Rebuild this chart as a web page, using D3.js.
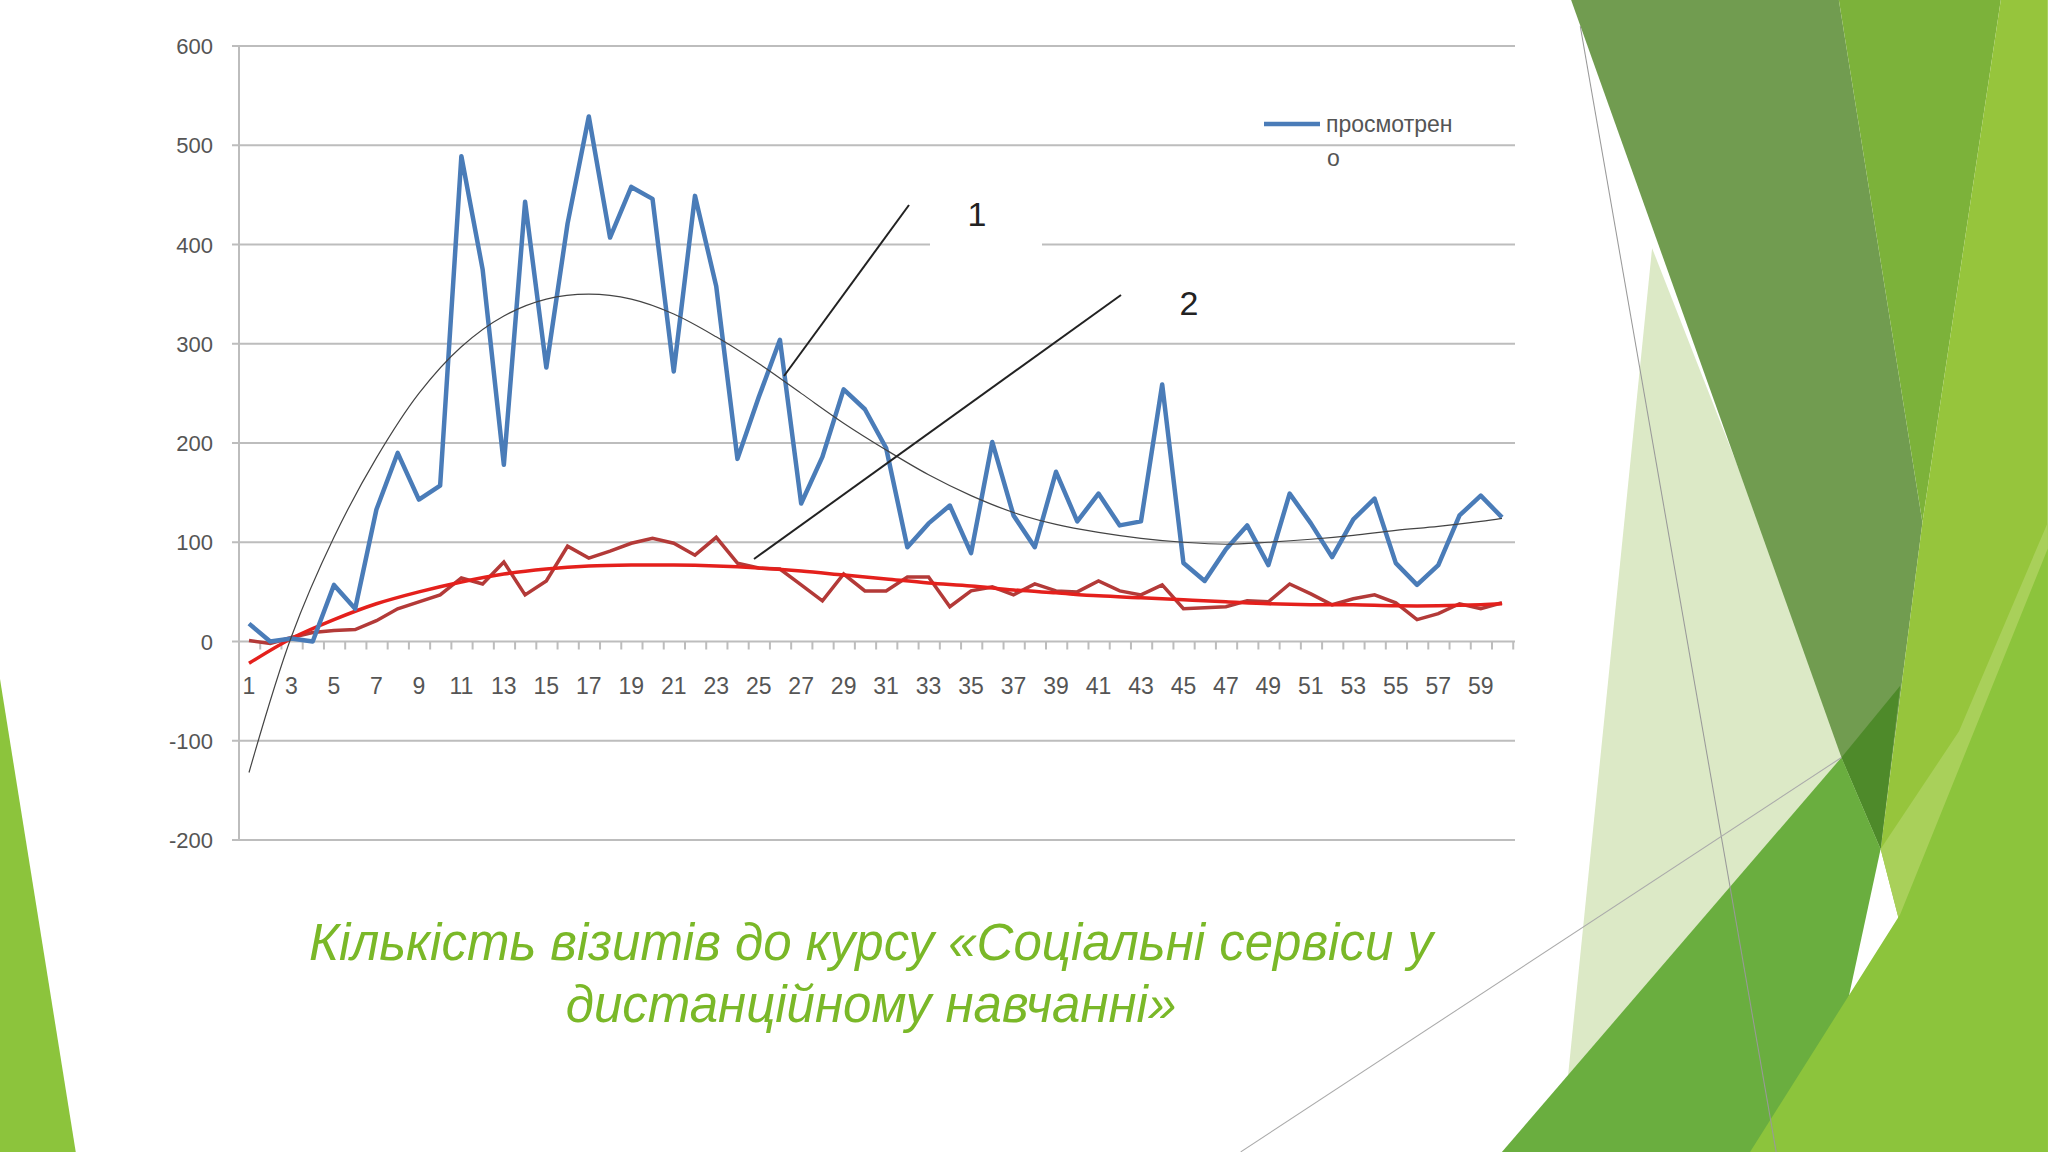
<!DOCTYPE html>
<html><head><meta charset="utf-8">
<script src="https://cdn.jsdelivr.net/npm/d3@7/dist/d3.min.js"></script>
<style>body{margin:0;background:#fff}</style></head>
<body><svg id="c" width="2048" height="1152"></svg>
<script>
const categories = d3.range(1, 61);
const viewed = [18,0,3,0,57,33,133,190,143,157,489,375,178,443,276,421,529,407,458,446,272,449,358,184,246,304,139,186,254,234,195,95,119,137,89,201,127,95,171,121,149,117,121,259,79,61,93,117,77,149,119,85,123,144,79,57,77,127,147,125];
const second = [1,-2,4,9,11,12,21,33,40,47,64,58,80,47,61,96,84,91,99,104,99,87,105,79,74,73,57,41,68,51,51,65,65,35,51,55,47,58,51,50,61,51,47,57,33,34,35,41,40,58,48,37,43,47,39,22,28,38,33,39];
const trendX = [1,3,5,7,9,11,13,15,17,19,21,23,25,27,29,31,33,35,37,39,41,43,45,47,49,51,53,55,57,59,60];
const trend1 = [-132,5,105,185,250,297,328,345,350,345,330,307,280,250,220,193,168,147,130,118,110,104,100,98,100,103,107,112,116,121,124];
const trend2 = [-22,3,22,38,50,60,68,73,76,77,77,76,74,71,67,63,59,56,52,49,46,44,42,40,38,37,37,36,36,37,38];
const yTicks = [-200,-100,0,100,200,300,400,500,600];
const legendLabel = ["просмотрен","о"];
const titleLines = ["Кількість візитів до курсу «Соціальні сервіси у","дистанційному навчанні»"];

const svg = d3.select("#c");
const bg = svg.append("g").attr("transform","scale(1.306)");
const polys = [
 ["#dce9c6",[[1265,190],[1420,585],[1200,830]]],
 ["#719c50",[[1203,0],[1408,0],[1472,400],[1440,650],[1410,580]]],
 ["#7cb23a",[[1408,0],[1532,0],[1472,400]]],
 ["#96c53c",[[1532,0],[1568,0],[1568,882],[1500,882],[1440,650],[1472,400]]],
 ["#a9d05a",[[1440,650],[1500,560],[1568,400],[1568,882],[1500,882]]],
 ["#4e8a2a",[[1410,580],[1455,525],[1440,650]]],
 ["#6aae3f",[[1150,882],[1410,580],[1440,650],[1390,882]]],
 ["#8cc43c",[[1340,882],[1455,700],[1568,420],[1568,882]]],
 ["#8cc43c",[[0,520],[58,882],[0,882]]]
];
polys.forEach(p=>bg.append("polygon").attr("points",p[1].map(d=>d.join(",")).join(" ")).attr("fill",p[0]));
bg.append("line").attr("x1",1210).attr("y1",20).attr("x2",1360).attr("y2",882).attr("stroke","#999").attr("stroke-width",0.8);
bg.append("line").attr("x1",950).attr("y1",882).attr("x2",1410).attr("y2",580).attr("stroke","#aaa").attr("stroke-width",0.8);

const x = d3.scalePoint().domain(categories).range([249,1502]);
const y = d3.scaleLinear().domain([-200,600]).range([840,46]);
const font = "'Liberation Sans', Arial, sans-serif";

svg.append("g").selectAll("line").data(yTicks).join("line")
 .attr("x1",232).attr("x2",1515).attr("y1",d=>y(d)).attr("y2",d=>y(d))
 .attr("stroke","#bdbdbd").attr("stroke-width",2);
svg.append("line").attr("x1",239).attr("x2",239).attr("y1",46).attr("y2",840).attr("stroke","#bdbdbd").attr("stroke-width",2);
svg.append("g").selectAll("text").data(yTicks).join("text")
 .attr("x",213).attr("y",d=>y(d)+8).attr("text-anchor","end").attr("font-family",font).attr("font-size",22).attr("fill","#555").text(d=>d);
const step = x.step();
svg.append("g").selectAll("line").data(d3.range(0,61)).join("line")
 .attr("x1",d=>239+d*step).attr("x2",d=>239+d*step).attr("y1",y(0)).attr("y2",y(0)+8).attr("stroke","#bdbdbd").attr("stroke-width",2);
svg.append("g").selectAll("text").data(categories.filter(d=>d%2===1)).join("text")
 .attr("x",d=>x(d)).attr("y",694).attr("text-anchor","middle").attr("font-family",font).attr("font-size",23).attr("fill","#555").text(d=>d);

const line = d3.line().x((d,i)=>x(categories[i])).y(d=>y(d));
const tline = d3.line().x((d,i)=>x(trendX[i])).y(d=>y(d)).curve(d3.curveCatmullRom);
svg.append("path").attr("d",line(second)).attr("fill","none").attr("stroke","#b33a38").attr("stroke-width",3.5);
svg.append("path").attr("d",tline(trend2)).attr("fill","none").attr("stroke","#e4201c").attr("stroke-width",3.5);
svg.append("path").attr("d",line(viewed)).attr("fill","none").attr("stroke","#4a7cb8").attr("stroke-width",4.5).attr("stroke-linejoin","round");
svg.append("path").attr("d",tline(trend1)).attr("fill","none").attr("stroke","#444").attr("stroke-width",1.2);

svg.append("rect").attr("x",930).attr("y",228).attr("width",112).attr("height",34).attr("fill","#fff");
svg.append("line").attr("x1",784).attr("y1",376).attr("x2",909).attr("y2",205).attr("stroke","#222").attr("stroke-width",2);
svg.append("line").attr("x1",754).attr("y1",559).attr("x2",1121).attr("y2",295).attr("stroke","#222").attr("stroke-width",2);
svg.append("text").attr("x",977).attr("y",226).attr("text-anchor","middle").attr("font-family",font).attr("font-size",34).attr("fill","#222").text("1");
svg.append("text").attr("x",1189).attr("y",315).attr("text-anchor","middle").attr("font-family",font).attr("font-size",34).attr("fill","#222").text("2");
svg.append("line").attr("x1",1264).attr("x2",1320).attr("y1",124).attr("y2",124).attr("stroke","#4a7cb8").attr("stroke-width",4.5);
svg.append("text").attr("x",1326).attr("y",132).attr("font-family",font).attr("font-size",23).attr("fill","#555").text(legendLabel[0]);
svg.append("text").attr("x",1327).attr("y",166).attr("font-family",font).attr("font-size",23).attr("fill","#555").text(legendLabel[1]);
svg.append("g").selectAll("text").data(titleLines).join("text")
 .attr("x",871).attr("y",(d,i)=>960+i*62).attr("text-anchor","middle").attr("font-family",font).attr("font-style","italic")
 .attr("font-size",51).attr("fill","#7ab828").text(d=>d);
</script></body></html>
